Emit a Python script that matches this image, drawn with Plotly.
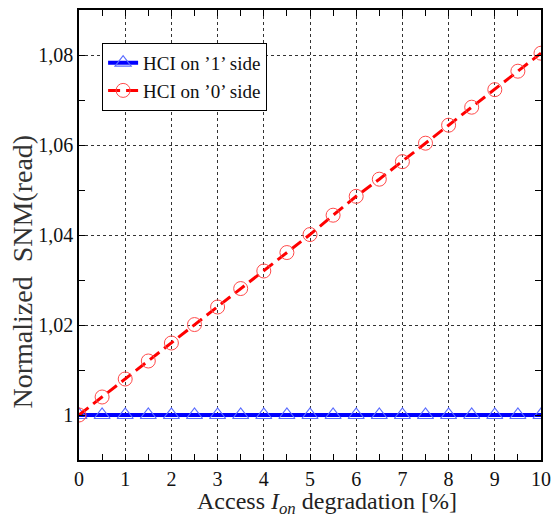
import plotly.graph_objects as go

# Access transistor I_on degradation [%]
degradation = [0, 0.5, 1, 1.5, 2, 2.5, 3, 3.5, 4, 4.5, 5,
               5.5, 6, 6.5, 7, 7.5, 8, 8.5, 9, 9.5, 10]

# Normalized read SNM, HCI stress on the '1' storage side
snm_side1 = [1.0] * 21

# Normalized read SNM, HCI stress on the '0' storage side
snm_side0 = [1.0, 1.004, 1.008, 1.012, 1.016, 1.0201, 1.024, 1.0281, 1.032, 1.0361, 1.0401,
             1.0444, 1.0486, 1.0524, 1.0563, 1.0604, 1.0644, 1.0684, 1.0723, 1.0764, 1.0804]

x_ticks = [0, 1, 2, 3, 4, 5, 6, 7, 8, 9, 10]
y_ticks = [1.0, 1.02, 1.04, 1.06, 1.08]
y_tick_text = ["1", "1,02", "1,04", "1,06", "1,08"]

SERIF = "Liberation Serif, Times New Roman, serif"

fig = go.Figure()

fig.add_trace(go.Scatter(
    x=degradation, y=snm_side1,
    mode="lines+markers",
    name="HCI on ’1’ side",
    line=dict(color="#0000ff", width=4),
    marker=dict(symbol="triangle-up-open", size=14,
                color="#5a6cff", line=dict(width=1.2, color="#5a6cff")),
))

fig.add_trace(go.Scatter(
    x=degradation, y=snm_side0,
    mode="lines+markers",
    name="HCI on ’0’ side",
    line=dict(color="#ff0000", width=3, dash="12px,6px"),
    marker=dict(symbol="circle-open", size=14,
                color="#ff4a4a", line=dict(width=1, color="#ff4a4a")),
))

axis_common = dict(
    showline=True, linecolor="black", linewidth=1.5, mirror="ticks",
    ticks="inside", ticklen=6, tickcolor="black", tickwidth=1,
    showgrid=True, gridcolor="#333333", griddash="dot", gridwidth=1,
    zeroline=False,
    tickfont=dict(family=SERIF, size=20, color="#111111"),
)

fig.update_xaxes(
    range=[0, 10],
    tickvals=x_ticks,
    minor=dict(dtick=0.5, ticks="inside", ticklen=6, tickcolor="black", showgrid=False),
    **axis_common,
)

fig.update_yaxes(
    range=[0.99, 1.09],
    tickvals=y_ticks,
    ticktext=y_tick_text,
    minor=dict(dtick=0.01, ticks="inside", ticklen=6, tickcolor="black", showgrid=False),
    **axis_common,
)

# Axis titles placed as paper-anchored annotations
fig.add_annotation(
    text="Access <i>I</i><sub><i>on</i></sub> degradation [%]",
    xref="paper", yref="paper", x=0.536, y=-0.095,
    xanchor="center", yanchor="middle", showarrow=False,
    font=dict(family=SERIF, size=24, color="#222222"),
)
fig.add_annotation(
    text="Normalized  SNM(read)",
    xref="paper", yref="paper", x=-0.122, y=0.418,
    xanchor="center", yanchor="middle", textangle=-90, showarrow=False,
    font=dict(family=SERIF, size=28, color="#333333"),
)

fig.update_layout(
    width=559, height=527,
    margin=dict(l=79, r=17, t=8, b=67),
    paper_bgcolor="white", plot_bgcolor="white",
    showlegend=True,
    legend=dict(
        x=0.05, y=0.927, xanchor="left", yanchor="top",
        bgcolor="white", bordercolor="black", borderwidth=1,
        font=dict(family=SERIF, size=19, color="#111111"),
        itemwidth=30, tracegroupgap=0,
    ),
)

fig.write_html("out.html")
